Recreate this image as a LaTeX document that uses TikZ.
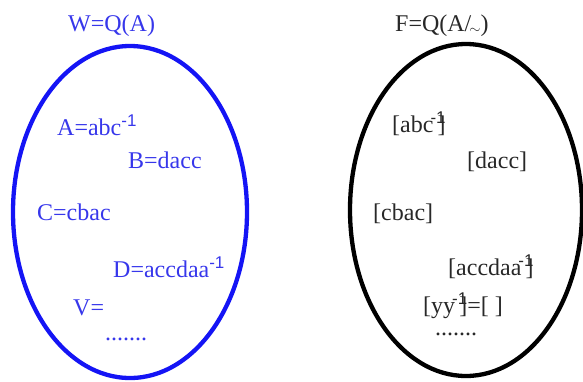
\documentclass[tikz,border=0pt]{standalone}
\usepackage{fontspec}
\setmainfont{Liberation Serif}
\newfontfamily\supfont{Liberation Sans}
\usepackage{tikz}
\definecolor{wblue}{RGB}{20, 20, 245}
\definecolor{wtext}{RGB}{55, 55, 235}
\definecolor{ftext}{RGB}{40, 40, 40}
% raised exponent
\newcommand{\expo}[1]{\raisebox{9pt}{\fontsize{17}{17}\supfont #1}}
% small tilde
\newcommand{\smtilde}{\kern-2pt\raisebox{-2pt}{\fontsize{14}{14}\selectfont$\sim$}}

\begin{document}
\begin{tikzpicture}[x=1pt, y=-1pt,
  lbl/.style={anchor=base west, inner sep=0pt, font=\fontsize{24}{28}\selectfont},
  wlbl/.style={lbl, text=wtext},
  flbl/.style={lbl, text=ftext},
  rim/.style={line width=4.3pt}
]
\useasboundingbox (0,0) rectangle (583,381);
% the two sets
\draw[rim, wblue] (130,212) ellipse [x radius=117, y radius=166];
\draw[rim, black] (466,210) ellipse [x radius=116, y radius=166];
% left: W
\node[wlbl] (wtitle) at (68,31) {W=Q(A)};
\node[wlbl] (ea) at (57,135) {A=abc\expo{-1}};
\node[wlbl] (eb) at (128,168) {B=dacc};
\node[wlbl] (ec) at (37,220) {C=cbac};
\node[wlbl] (ed) at (113,277) {D=accdaa\expo{-1}};
\node[wlbl] (ev) at (73,315) {V=};
\node[wlbl] (edots) at (105,340) {.......};
% right: F
\node[flbl] (ftitle) at (395,31) {F=Q(A/\smtilde)};
\node[flbl] (ca) at (392,132) {[abc\kern-3pt\expo{-1}\kern-8pt]};
\node[flbl] (cb) at (467,168) {[dacc]};
\node[flbl] (cc) at (373,220) {[cbac]};
\node[flbl] (cd) at (448,275) {[accdaa\kern-3pt\expo{-1}\kern-8pt]};
\node[flbl] (cv) at (423,313) {[yy\kern-3pt\expo{-1}\kern-8pt]=[ ]};
\node[flbl] (fdots) at (435,335) {.......};
\end{tikzpicture}
\end{document}
